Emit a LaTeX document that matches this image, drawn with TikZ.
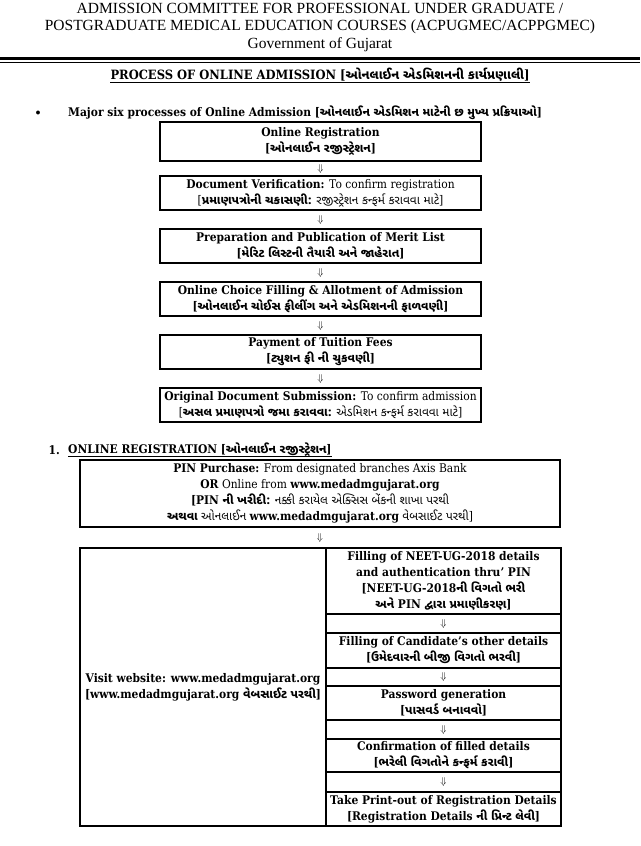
\documentclass[tikz,border=0pt]{standalone}
\usepackage{fontspec}
\setmainfont{DejaVu Serif}[FakeStretch=0.9]
\newfontfamily\timesf{Liberation Serif}
\newfontfamily\guj[Script=Gujarati]{Noto Sans Gujarati UI}
\newcommand\gu[1]{{\guj #1}}
\newcommand\bodyfont{\fontsize{11.9}{16}\selectfont}
\newcommand\dnarrow{{\fontsize{10}{10}\selectfont$\Downarrow$}}
\begin{document}
\begin{tikzpicture}[x=1pt,y=-1pt,
  box/.style={draw,line width=1.1pt,inner sep=0pt,align=center,font=\bodyfont,minimum width=321pt},
  cell/.style={draw,line width=1.1pt,inner sep=0pt,align=center,font=\bodyfont\bfseries},
  arr/.style={inner sep=0pt,font=\bodyfont},
  txt/.style={inner sep=0pt,font=\bodyfont\bfseries}]
\useasboundingbox (0,0) rectangle (640,846);
% header
\node[inner sep=0pt,align=center,font=\timesf\fontsize{15.5}{17.5}\selectfont] (head) at (320,27.5)
 {ADMISSION COMMITTEE FOR PROFESSIONAL UNDER GRADUATE /\\
  POSTGRADUATE MEDICAL EDUCATION COURSES (ACPUGMEC/ACPPGMEC)\\
  Government of Gujarat};
\coordinate (rl) at (0,58.5); \coordinate (rr) at (640,58.5);
\draw[line width=3pt] (rl) -- (rr);
\draw[line width=0.8pt] ([yshift=-4pt]rl) -- ([yshift=-4pt]rr);
% title
\node[inner sep=0pt,font=\fontsize{12.8}{15}\selectfont\bfseries] (title) at (320,75)
 {PROCESS OF ONLINE ADMISSION [\gu{ઓનલાઈન એડમિશનની કાર્યપ્રણાલી}]};
\draw[line width=0.8pt] ([yshift=-2.5pt]title.base west) -- ([yshift=-2.5pt]title.base east);
% bullet
\node[inner sep=0pt] (bul) at (38,113) {$\bullet$};
\node[txt,anchor=west] (major) at (68,113)
 {Major six processes of Online Admission [\gu{ઓનલાઈન એડમિશન માટેની છ મુખ્ય પ્રક્રિયાઓ}]};
% six boxes
\node[box,minimum height=39pt] (b1) at (320.5,141.5)
 {\textbf{Online Registration}\\\textbf{[\gu{ઓનલાઈન રજીસ્ટ્રેશન}]}};
\node[arr] (a1) at (320.5,168.5) {\dnarrow};
\node[box,minimum height=34pt] (b2) at (320.5,193)
 {\textbf{Document Verification:} To confirm registration\\{}%
  [\textbf{\gu{પ્રમાણપત્રોની ચકાસણી:}} \gu{રજીસ્ટ્રેશન કન્ફર્મ કરાવવા માટે}]};
\node[arr] (a2) at (320.5,219.5) {\dnarrow};
\node[box,minimum height=34pt] (b3) at (320.5,246)
 {\textbf{Preparation and Publication of Merit List}\\\textbf{[\gu{મેરિટ લિસ્ટની તૈયારી અને જાહેરાત}]}};
\node[arr] (a3) at (320.5,272.5) {\dnarrow};
\node[box,minimum height=34pt] (b4) at (320.5,299)
 {\textbf{Online Choice Filling \& Allotment of Admission}\\\textbf{[\gu{ઓનલાઈન ચોઈસ ફીલીંગ અને એડમિશનની ફાળવણી}]}};
\node[arr] (a4) at (320.5,325.5) {\dnarrow};
\node[box,minimum height=34pt] (b5) at (320.5,352)
 {\textbf{Payment of Tuition Fees}\\\textbf{[\gu{ટ્યુશન ફી ની ચુકવણી}]}};
\node[arr] (a5) at (320.5,378.5) {\dnarrow};
\node[box,minimum height=34pt] (b6) at (320.5,405)
 {\textbf{Original Document Submission:} To confirm admission\\{}%
  [\textbf{\gu{અસલ પ્રમાણપત્રો જમા કરાવવા:}} \gu{એડમિશન કન્ફર્મ કરાવવા માટે}]};
% section 1
\node[txt,anchor=east] (num) at (60,450) {1.};
\node[txt,anchor=west] (sec) at (68,450)
 {ONLINE REGISTRATION [\gu{ઓનલાઈન રજીસ્ટ્રેશન}]};
\draw[line width=0.8pt] ([yshift=-2.5pt]sec.base west) -- ([yshift=-2.5pt]sec.base east);
\node[box,minimum width=480pt,minimum height=67pt] (pin) at (320,493.5)
 {\textbf{PIN Purchase:} From designated branches Axis Bank\\
  \textbf{OR} Online from \textbf{www.medadmgujarat.org}\\
  \textbf{[PIN \gu{ની ખરીદી:}} \gu{નક્કી કરાયેલ એક્સિસ બેંકની શાખા પરથી}\\
  \textbf{\gu{અથવા}} \gu{ઓનલાઈન} \textbf{www.medadmgujarat.org} \gu{વેબસાઈટ પરથી}]};
\node[arr] (a6) at (320,537.5) {\dnarrow};
% table
\node[cell,minimum width=246pt,minimum height=278pt] (visit) at (203,687)
 {Visit website: www.medadmgujarat.org\\{}[www.medadmgujarat.org \gu{વેબસાઈટ પરથી}]};
\node[cell,minimum width=235pt,minimum height=66pt] (r1) at (443.5,581)
 {Filling of NEET-UG-2018 details\\and authentication thru’ PIN\\{}[NEET-UG-2018\gu{ની વિગતો ભરી}\\\gu{અને} PIN \gu{દ્વારા પ્રમાણીકરણ}]};
\node[cell,minimum width=235pt,minimum height=19pt] (c1) at (443.5,623.5) {\dnarrow};
\node[cell,minimum width=235pt,minimum height=35pt] (r2) at (443.5,650.5)
 {Filling of Candidate's other details\\{}[\gu{ઉમેદવારની બીજી વિગતો ભરવી}]};
\node[cell,minimum width=235pt,minimum height=18pt] (c2) at (443.5,677) {\dnarrow};
\node[cell,minimum width=235pt,minimum height=34pt] (r3) at (443.5,703)
 {Password generation\\{}[\gu{પાસવર્ડ બનાવવો}]};
\node[cell,minimum width=235pt,minimum height=19pt] (c3) at (443.5,729.5) {\dnarrow};
\node[cell,minimum width=235pt,minimum height=33pt] (r4) at (443.5,755.5)
 {Confirmation of filled details\\{}[\gu{ભરેલી વિગતોને કન્ફર્મ કરાવી}]};
\node[cell,minimum width=235pt,minimum height=20pt] (c4) at (443.5,782) {\dnarrow};
\node[cell,minimum width=235pt,minimum height=34pt] (r5) at (443.5,809)
 {Take Print-out of Registration Details\\{}[Registration Details \gu{ની પ્રિન્ટ લેવી}]};
\end{tikzpicture}
\end{document}
